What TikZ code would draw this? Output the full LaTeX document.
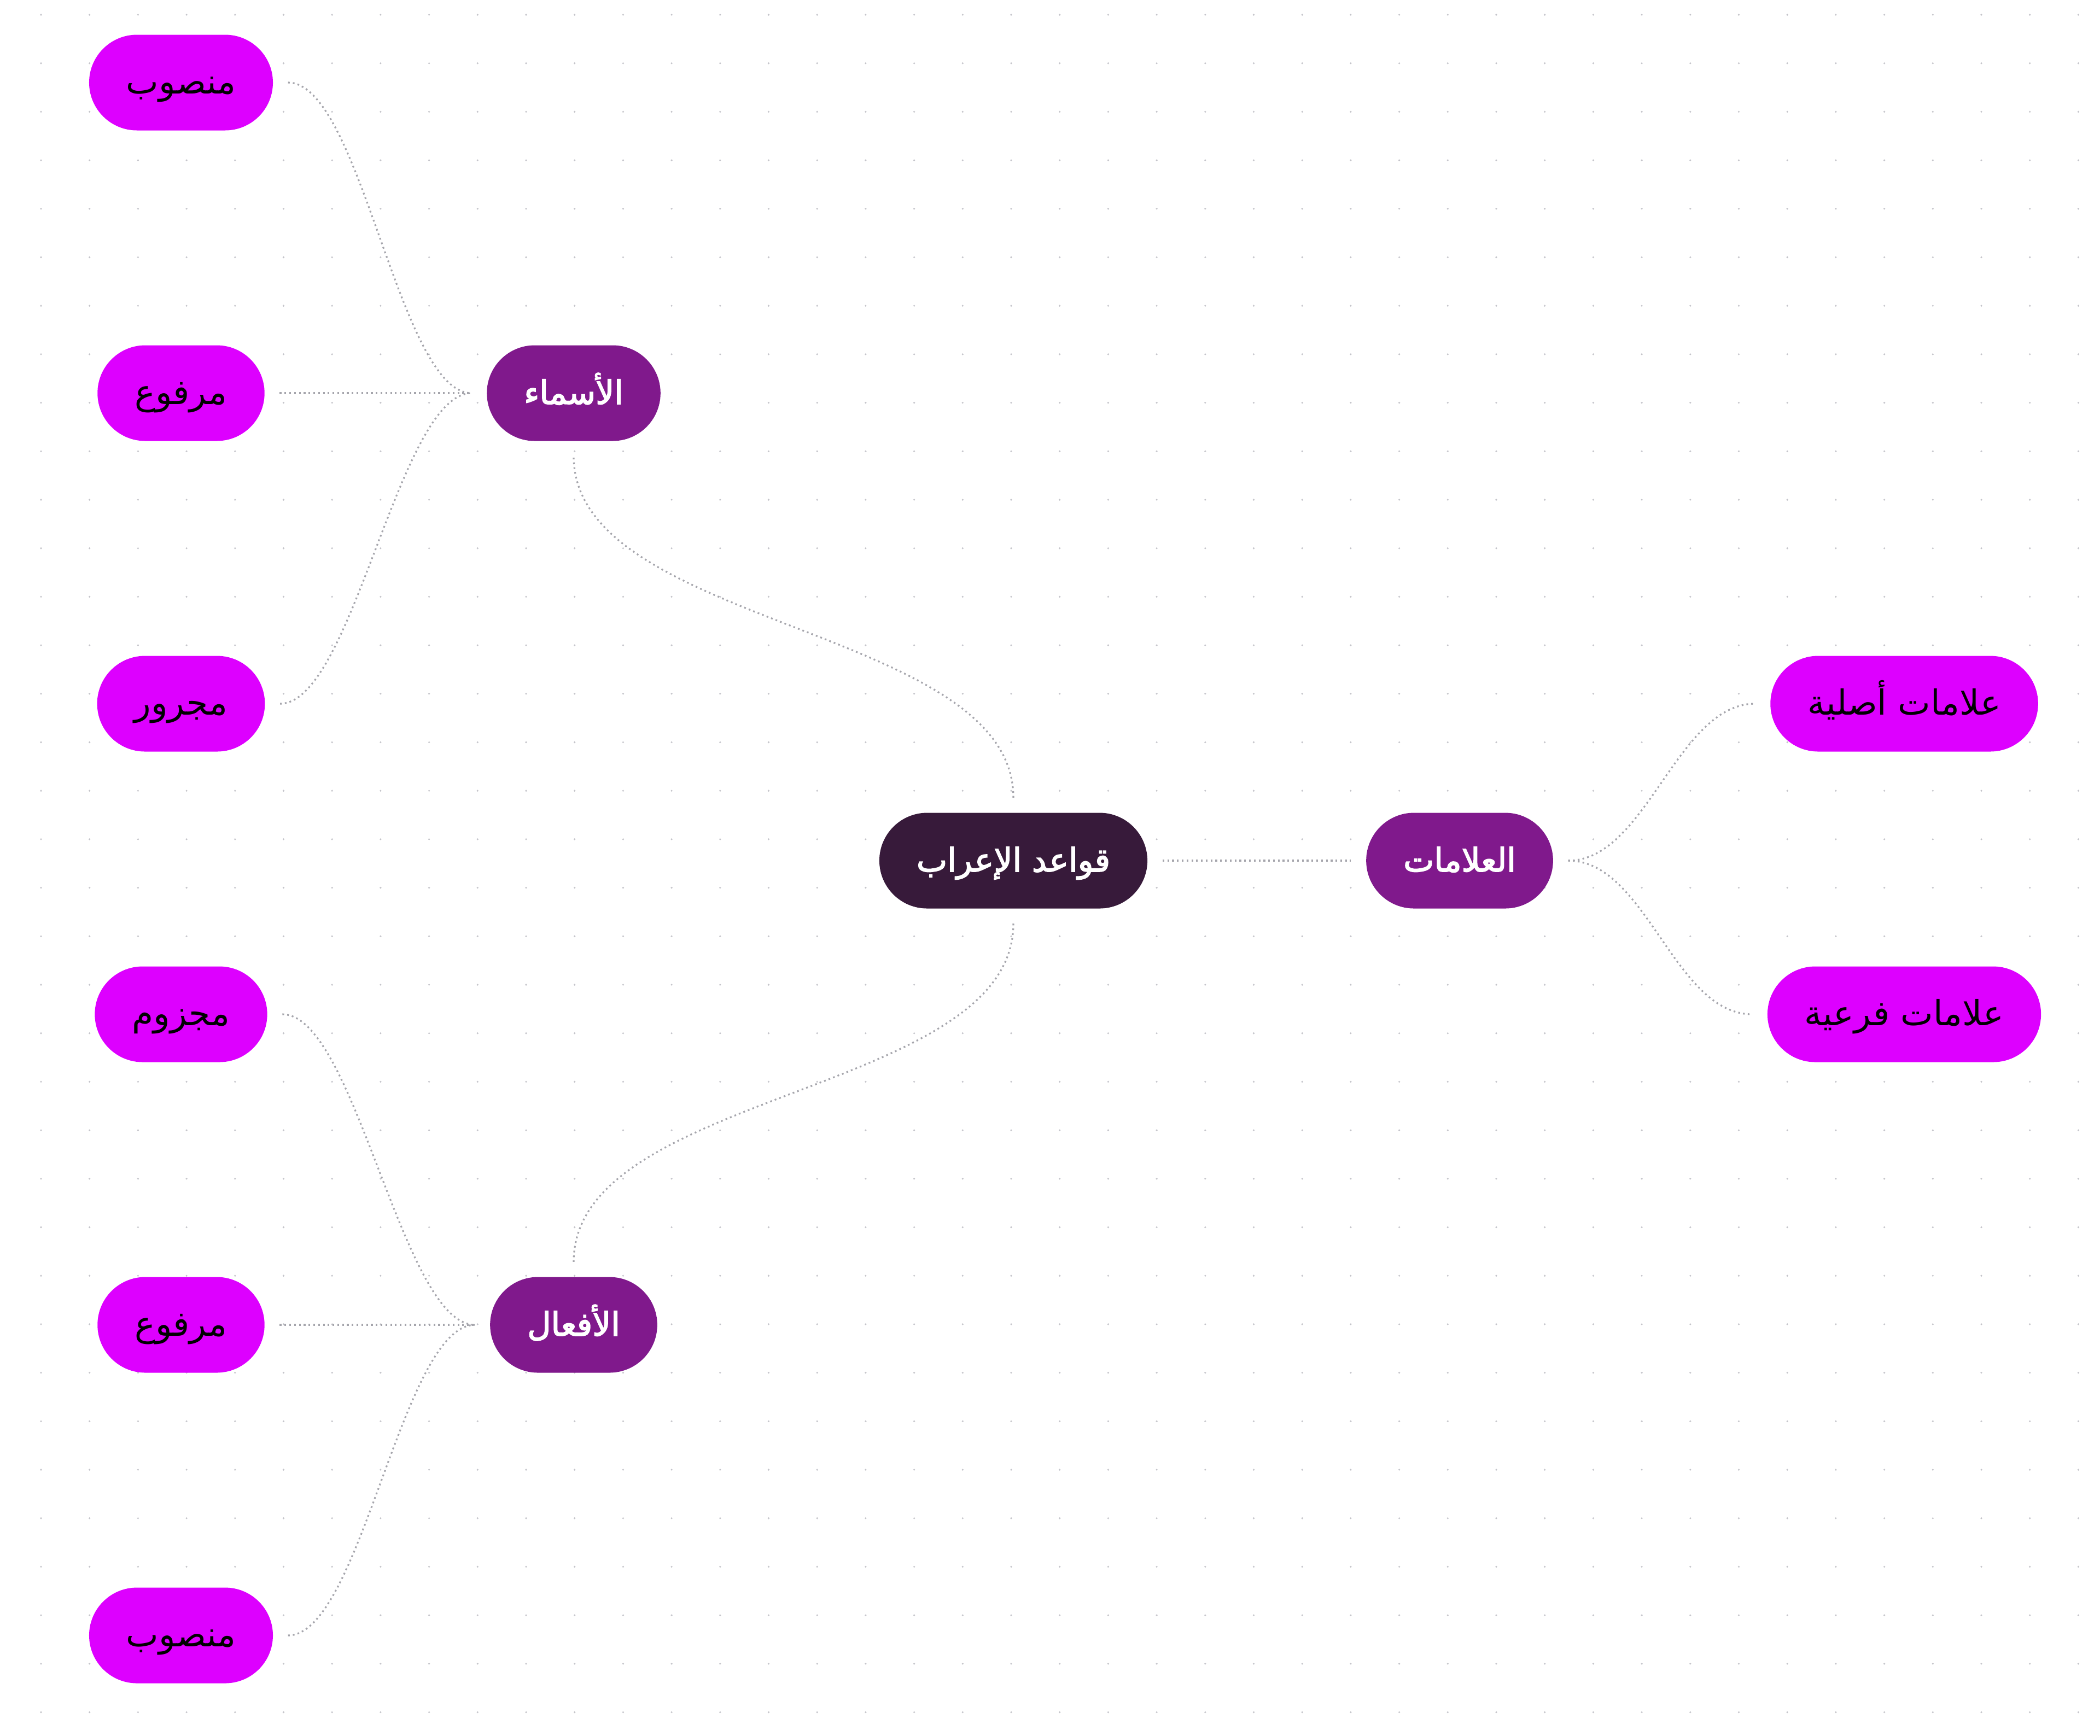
\documentclass[tikz,border=0pt]{standalone}
\usepackage{fontspec}
\usepackage{xcolor}
\TeXXeTstate=1
\newfontfamily\arabicfont[Script=Arabic]{DejaVu Sans}
\newfontfamily\arabicheavy[Script=Arabic,FakeBold=2.6]{DejaVu Sans}
\newcommand{\artxt}[1]{\beginR #1\endR}
\definecolor{rootcol}{RGB}{55,26,58}
\definecolor{branchcol}{RGB}{128,25,140}
\definecolor{leafcol}{RGB}{221,0,255}
\definecolor{linkcol}{RGB}{165,165,172}
\definecolor{gridcol}{RGB}{196,196,202}
\tikzset{
  pill/.style={rounded corners=0.875cm, minimum height=1.75cm, inner xsep=0.68cm, inner ysep=0pt,
    text height=0.5cm, text depth=0.1cm},
  rootnode/.style={pill, fill=rootcol, text=white, font=\arabicheavy\fontsize{17}{21}\selectfont},
  branchnode/.style={pill, fill=branchcol, text=white, font=\arabicheavy\fontsize{17}{21}\selectfont},
  leafnode/.style={pill, fill=leafcol, text=black, font=\arabicfont\fontsize{18}{22}\selectfont},
  link/.style={draw=linkcol, line width=0.9pt, dash pattern=on 0.9pt off 1.6pt, shorten <=0.27cm, shorten >=0.27cm}
}
\begin{document}
\begin{tikzpicture}
\useasboundingbox[fill=white] (0,0) rectangle (38.4,-31.74);
% dotted background
\foreach \i in {0,...,42}
  \foreach \j in {0,...,35}
    \fill[gridcol] (0.75+0.887*\i,-0.27-0.887*\j) circle (0.018);

% nodes
\node[rootnode] (irab) at (18.53,-15.74) {\artxt{قواعد الإعراب}};
\node[branchnode] (asma) at (10.49,-7.19) {\artxt{الأسماء}};
\node[branchnode] (afal) at (10.49,-24.23) {\artxt{الأفعال}};
\node[branchnode] (alamat) at (26.69,-15.74) {\artxt{العلامات}};
\node[leafnode] (asma1) at (3.31,-1.51) {\artxt{منصوب}};
\node[leafnode] (asma2) at (3.31,-7.19) {\artxt{مرفوع}};
\node[leafnode] (asma3) at (3.31,-12.87) {\artxt{مجرور}};
\node[leafnode] (afal1) at (3.31,-18.55) {\artxt{مجزوم}};
\node[leafnode] (afal2) at (3.31,-24.23) {\artxt{مرفوع}};
\node[leafnode] (afal3) at (3.31,-29.91) {\artxt{منصوب}};
\node[leafnode] (alamat1) at (34.82,-12.87) {\artxt{علامات أصلية}};
\node[leafnode] (alamat2) at (34.82,-18.55) {\artxt{علامات فرعية}};

% connectors
\draw[link] (irab.north) .. controls +(0,3.4) and +(0,-3.4) .. (asma.south);
\draw[link] (irab.south) .. controls +(0,-3.4) and +(0,3.4) .. (afal.north);
\draw[link] (irab.east) -- (alamat.west);
\draw[link] (asma1.east) .. controls +(1.6,0) and +(-1.6,0) .. (asma.west);
\draw[link] (asma2.east) -- (asma.west);
\draw[link] (asma3.east) .. controls +(1.6,0) and +(-1.6,0) .. (asma.west);
\draw[link] (afal1.east) .. controls +(1.6,0) and +(-1.6,0) .. (afal.west);
\draw[link] (afal2.east) -- (afal.west);
\draw[link] (afal3.east) .. controls +(1.6,0) and +(-1.6,0) .. (afal.west);
\draw[link] (alamat.east) .. controls +(1.7,0) and +(-1.7,0) .. (alamat1.west);
\draw[link] (alamat.east) .. controls +(1.7,0) and +(-1.7,0) .. (alamat2.west);
\end{tikzpicture}
\end{document}
